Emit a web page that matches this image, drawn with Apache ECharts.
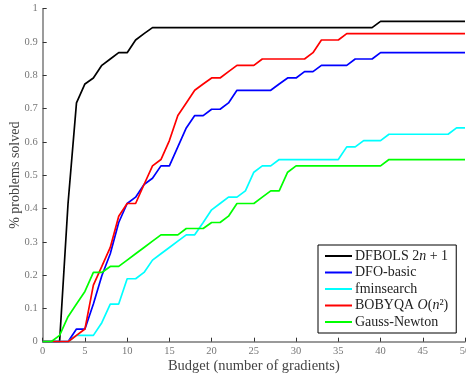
<!DOCTYPE html>
<html>
<head>
<meta charset="utf-8">
<script src="https://cdn.jsdelivr.net/npm/echarts@6/dist/echarts.min.js"></script>
<style>
  html, body { margin: 0; padding: 0; background: #fff; }
  #chart { width: 466px; height: 378px; }
</style>
</head>
<body>
<div id="chart"></div>
<script>
// Budget (number of gradients) at which each data profile is sampled
const budgets = [0,1,2,3,4,5,6,7,8,9,10,11,12,13,14,15,16,17,18,19,20,
  21,22,23,24,25,26,27,28,29,30,31,32,33,34,35,36,37,38,39,40,
  41,42,43,44,45,46,47,48,49,50];

// Fraction of problems solved per solver
const dfbols = [0,0,0,0.415,0.717,0.774,0.792,0.830,0.849,0.868,0.868,
  0.906,0.925,0.943,0.943,0.943,0.943,0.943,0.943,0.943,0.943,
  0.943,0.943,0.943,0.943,0.943,0.943,0.943,0.943,0.943,0.943,
  0.943,0.943,0.943,0.943,0.943,0.943,0.943,0.943,0.943,0.962,
  0.962,0.962,0.962,0.962,0.962,0.962,0.962,0.962,0.962,0.962];

const dfoBasic = [0,0,0,0,0.038,0.038,0.113,0.198,0.264,0.358,0.415,
  0.434,0.472,0.491,0.528,0.528,0.585,0.642,0.679,0.679,0.698,
  0.698,0.717,0.755,0.755,0.755,0.755,0.755,0.774,0.792,0.792,
  0.811,0.811,0.830,0.830,0.830,0.830,0.849,0.849,0.849,0.868,
  0.868,0.868,0.868,0.868,0.868,0.868,0.868,0.868,0.868,0.868];

const fminsearch = [0,0,0,0,0.019,0.019,0.019,0.057,0.113,0.113,0.189,
  0.189,0.208,0.245,0.264,0.283,0.302,0.321,0.321,0.358,0.396,
  0.415,0.434,0.434,0.453,0.509,0.528,0.528,0.547,0.547,0.547,
  0.547,0.547,0.547,0.547,0.547,0.585,0.585,0.604,0.604,0.604,
  0.623,0.623,0.623,0.623,0.623,0.623,0.623,0.623,0.642,0.642];

const bobyqa = [0,0,0,0,0.019,0.038,0.170,0.226,0.283,0.377,0.415,
  0.415,0.472,0.528,0.547,0.604,0.679,0.717,0.755,0.774,0.792,
  0.792,0.811,0.830,0.830,0.830,0.849,0.849,0.849,0.849,0.849,
  0.849,0.868,0.906,0.906,0.906,0.925,0.925,0.925,0.925,0.925,
  0.925,0.925,0.925,0.925,0.925,0.925,0.925,0.925,0.925,0.925];

const gaussNewton = [0,0,0.019,0.075,0.113,0.151,0.208,0.208,0.226,0.226,0.245,
  0.264,0.283,0.302,0.321,0.321,0.321,0.340,0.340,0.340,0.358,
  0.358,0.377,0.415,0.415,0.415,0.434,0.453,0.453,0.509,0.528,
  0.528,0.528,0.528,0.528,0.528,0.528,0.528,0.528,0.528,0.528,
  0.547,0.547,0.547,0.547,0.547,0.547,0.547,0.547,0.547,0.547];

const xTicks = [0,5,10,15,20,25,30,35,40,45,50];
const yTicks = [0,0.1,0.2,0.3,0.4,0.5,0.6,0.7,0.8,0.9,1];

const solverNames = ['DFBOLS', 'DFO-basic', 'fminsearch', 'BOBYQA', 'Gauss-Newton'];
const solverValues = [dfbols, dfoBasic, fminsearch, bobyqa, gaussNewton];
const solverColors = ['#000000', '#0000ff', '#00ffff', '#ff0000', '#00ff00'];

// Legend labels with math set in italics
const legendRich = {
  DFBOLS: '{t|DFBOLS 2}{i|n}{t| + 1}',
  'DFO-basic': '{t|DFO-basic}',
  fminsearch: '{t|fminsearch}',
  BOBYQA: '{t|BOBYQA }{i|O}{t|(}{i|n}{t|²)}',
  'Gauss-Newton': '{t|Gauss-Newton}'
};

const serif = '"Liberation Serif", "DejaVu Serif", serif';
const axisGray = '#7a7a7a';

const chart = echarts.init(document.getElementById('chart'), null, { renderer: 'canvas' });

chart.setOption({
  animation: false,
  backgroundColor: '#ffffff',
  grid: {
    left: 42.7, right: 1, top: 8.7, bottom: 36.3,
    containLabel: false,
    outerBoundsMode: 'none'
  },
  xAxis: {
    type: 'value',
    min: xTicks[0],
    max: xTicks[xTicks.length - 1],
    interval: xTicks[1] - xTicks[0],
    name: 'Budget (number of gradients)',
    nameLocation: 'middle',
    nameGap: 17,
    nameMoveOverlap: false,
    nameTextStyle: { fontFamily: serif, fontSize: 14.5, color: '#444' },
    axisLine: { show: true, lineStyle: { color: axisGray, width: 1.5 } },
    axisTick: { show: true, inside: true, length: 4, lineStyle: { color: '#333', width: 1 } },
    axisLabel: { fontFamily: serif, fontSize: 10.5, color: '#777', margin: 4 },
    splitLine: { show: false }
  },
  yAxis: {
    type: 'value',
    min: yTicks[0],
    max: yTicks[yTicks.length - 1],
    interval: 0.1,
    name: '% problems solved',
    nameLocation: 'middle',
    nameGap: 20,
    nameMoveOverlap: false,
    nameTextStyle: { fontFamily: serif, fontSize: 14, color: '#444' },
    axisLine: { show: true, lineStyle: { color: axisGray, width: 1.5 } },
    axisTick: { show: true, inside: true, length: 4, lineStyle: { color: '#333', width: 1 } },
    axisLabel: {
      fontFamily: serif, fontSize: 10.5, color: '#777', margin: 5,
      formatter: v => String(Math.round(v * 10) / 10)
    },
    splitLine: { show: false }
  },
  legend: {
    orient: 'vertical',
    left: 318,
    top: 245,
    padding: [4, 8, 4, 7],
    itemGap: 2.5,
    itemWidth: 27,
    itemHeight: 2,
    icon: 'rect',
    backgroundColor: '#ffffff',
    borderColor: '#000000',
    borderWidth: 1,
    borderRadius: 0,
    data: solverNames,
    formatter: name => legendRich[name],
    textStyle: {
      fontFamily: serif, fontSize: 14, color: '#222', padding: [0, 0, 0, -2],
      rich: {
        t: { fontFamily: serif, fontSize: 14, color: '#222' },
        i: { fontFamily: serif, fontSize: 14, fontStyle: 'italic', color: '#222' }
      }
    }
  },
  series: solverNames.map((name, k) => ({
    name: name,
    type: 'line',
    showSymbol: false,
    symbol: 'none',
    clip: true,
    color: solverColors[k],
    lineStyle: { color: solverColors[k], width: 1.7 },
    data: budgets.map((b, i) => [b, solverValues[k][i]])
  }))
});
</script>
</body>
</html>
